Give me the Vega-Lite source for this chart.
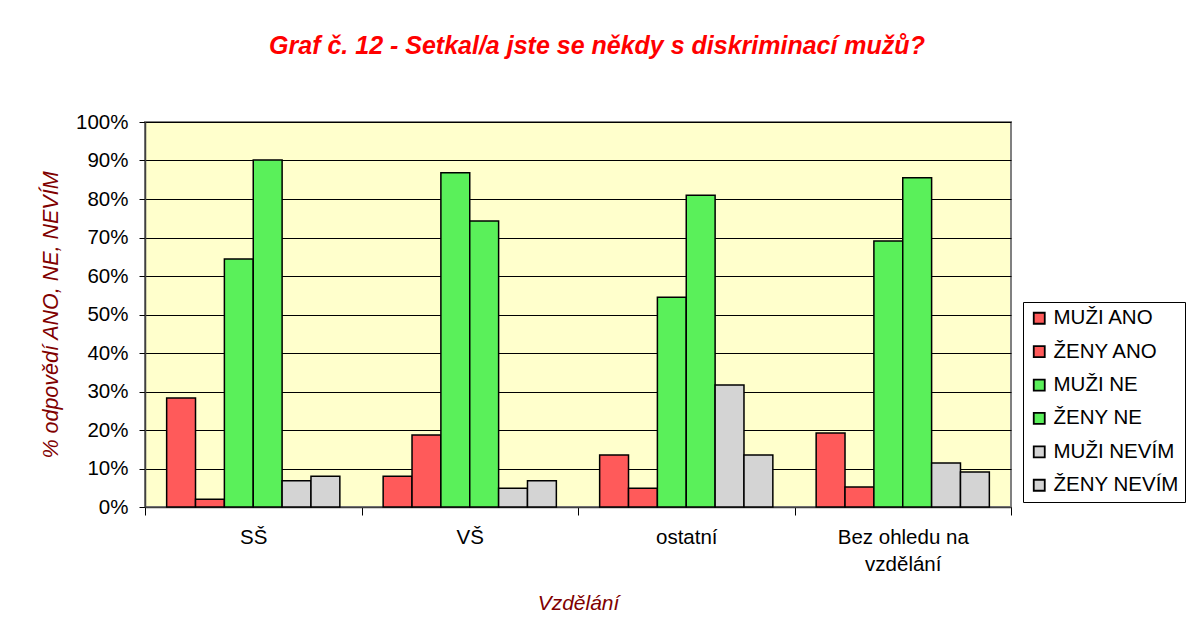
{
  "$schema": "https://vega.github.io/schema/vega-lite/v6.json",
  "width": 866,
  "height": 385,
  "autosize": "none",
  "padding": {"left": 145, "top": 122, "right": 175, "bottom": 135},
  "background": "white",
  "title": {
    "text": "Graf č. 12 - Setkal/a jste se někdy s diskriminací mužů?",
    "font": "Liberation Sans",
    "fontSize": 25,
    "fontStyle": "italic",
    "fontWeight": "bold",
    "color": "#FF0000",
    "anchor": "middle",
    "dx": 19,
    "offset": 53
  },
  "data": {
    "values": [
      {"group": "SŠ", "series": "MUŽI ANO", "value": 0.283},
      {"group": "SŠ", "series": "ŽENY ANO", "value": 0.02},
      {"group": "SŠ", "series": "MUŽI NE", "value": 0.644},
      {"group": "SŠ", "series": "ŽENY NE", "value": 0.901},
      {"group": "SŠ", "series": "MUŽI NEVÍM", "value": 0.068},
      {"group": "SŠ", "series": "ŽENY NEVÍM", "value": 0.08},
      {"group": "VŠ", "series": "MUŽI ANO", "value": 0.08},
      {"group": "VŠ", "series": "ŽENY ANO", "value": 0.187},
      {"group": "VŠ", "series": "MUŽI NE", "value": 0.868},
      {"group": "VŠ", "series": "ŽENY NE", "value": 0.743},
      {"group": "VŠ", "series": "MUŽI NEVÍM", "value": 0.049},
      {"group": "VŠ", "series": "ŽENY NEVÍM", "value": 0.068},
      {"group": "ostatní", "series": "MUŽI ANO", "value": 0.135},
      {"group": "ostatní", "series": "ŽENY ANO", "value": 0.049},
      {"group": "ostatní", "series": "MUŽI NE", "value": 0.545},
      {"group": "ostatní", "series": "ŽENY NE", "value": 0.81},
      {"group": "ostatní", "series": "MUŽI NEVÍM", "value": 0.317},
      {"group": "ostatní", "series": "ŽENY NEVÍM", "value": 0.135},
      {"group": "Bez ohledu na vzdělání", "series": "MUŽI ANO", "value": 0.192},
      {"group": "Bez ohledu na vzdělání", "series": "ŽENY ANO", "value": 0.052},
      {"group": "Bez ohledu na vzdělání", "series": "MUŽI NE", "value": 0.691},
      {"group": "Bez ohledu na vzdělání", "series": "ŽENY NE", "value": 0.855},
      {"group": "Bez ohledu na vzdělání", "series": "MUŽI NEVÍM", "value": 0.114},
      {"group": "Bez ohledu na vzdělání", "series": "ŽENY NEVÍM", "value": 0.091}
    ]
  },
  "mark": {"type": "bar", "stroke": "black", "strokeWidth": 1.5},
  "encoding": {
    "x": {
      "field": "group",
      "type": "nominal",
      "sort": ["SŠ", "VŠ", "ostatní", "Bez ohledu na vzdělání"],
      "scale": {"paddingInner": 0, "paddingOuter": 0},
      "axis": {
        "title": "Vzdělání",
        "titleFont": "Liberation Sans",
        "titleFontSize": 21,
        "titleFontStyle": "italic",
        "titleFontWeight": "normal",
        "titleColor": "#800000",
        "titlePadding": 18,
        "labelFont": "Liberation Sans",
        "labelFontSize": 20.5,
        "labelColor": "black",
        "labelAngle": 0,
        "labelPadding": 12,
        "labelLineHeight": 27,
        "labelExpr": "datum.label == 'Bez ohledu na vzdělání' ? ['Bez ohledu na', 'vzdělání'] : datum.label",
        "tickBand": "extent",
        "tickSize": 8,
        "tickColor": "black",
        "domainColor": "#404040",
        "domainWidth": 1.5
      }
    },
    "xOffset": {
      "field": "series",
      "type": "nominal",
      "sort": ["MUŽI ANO", "ŽENY ANO", "MUŽI NE", "ŽENY NE", "MUŽI NEVÍM", "ŽENY NEVÍM"],
      "scale": {"paddingInner": 0, "paddingOuter": 0.75}
    },
    "y": {
      "field": "value",
      "type": "quantitative",
      "scale": {"domain": [0, 1]},
      "axis": {
        "title": "% odpovědí ANO, NE, NEVÍM",
        "titleFont": "Liberation Sans",
        "titleFontSize": 21.5,
        "titleFontStyle": "italic",
        "titleFontWeight": "normal",
        "titleColor": "#800000",
        "titlePadding": 13,
        "format": ".0%",
        "values": [0, 0.1, 0.2, 0.3, 0.4, 0.5, 0.6, 0.7, 0.8, 0.9, 1],
        "labelFont": "Liberation Sans",
        "labelFontSize": 20.5,
        "labelColor": "black",
        "labelPadding": 11,
        "tickSize": 6,
        "tickColor": "black",
        "domainColor": "#404040",
        "domainWidth": 1.5,
        "grid": true,
        "gridColor": "black",
        "gridWidth": 1
      }
    },
    "color": {
      "field": "series",
      "type": "nominal",
      "sort": ["MUŽI ANO", "ŽENY ANO", "MUŽI NE", "ŽENY NE", "MUŽI NEVÍM", "ŽENY NEVÍM"],
      "scale": {
        "domain": ["MUŽI ANO", "ŽENY ANO", "MUŽI NE", "ŽENY NE", "MUŽI NEVÍM", "ŽENY NEVÍM"],
        "range": ["#FF5A5A", "#FF5A5A", "#5AF05A", "#5AF05A", "#D4D4D4", "#D4D4D4"]
      },
      "legend": {
        "title": null,
        "orient": "none",
        "legendX": 878,
        "legendY": 180,
        "fillColor": "white",
        "strokeColor": "black",
        "padding": 6,
        "labelFont": "Liberation Sans",
        "labelFontSize": 20.5,
        "labelColor": "black",
        "labelOffset": 4,
        "symbolType": "square",
        "symbolSize": 121,
        "symbolStrokeColor": "black",
        "symbolStrokeWidth": 1.8,
        "symbolOpacity": 1,
        "rowPadding": 12.4,
        "labelLimit": 220
      }
    }
  },
  "config": {
    "view": {"fill": "#FFFFCC", "stroke": "#808080", "strokeWidth": 2}
  }
}
